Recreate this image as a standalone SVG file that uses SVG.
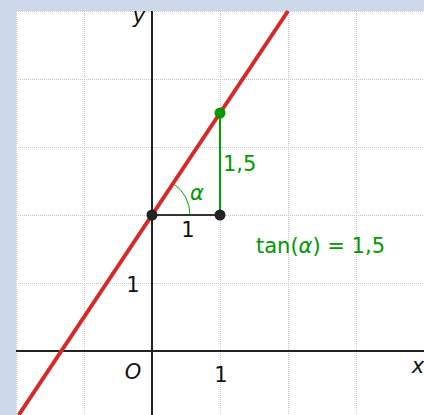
<svg xmlns="http://www.w3.org/2000/svg" width="424" height="415" viewBox="0 0 424 415">
<style>
.grid{stroke:#c4c4c4;stroke-width:1;stroke-dasharray:1 1;fill:none}
.axis{stroke:#222;stroke-width:2;fill:none}
.t{font-family:"DejaVu Sans",sans-serif;font-size:21px;fill:#111}
.it{font-style:italic}
.g{fill:#009900}
</style>
<rect x="0" y="0" width="424" height="415" fill="#cdd9eb"/>
<rect x="16" y="11" width="408" height="404" fill="#fff"/>
<g id="grid">
<path class="grid" d="M16.5 11V415M84.5 11V415M220.5 11V415M288.5 11V415M356.5 11V415M16 11.5H424M16 79.5H424M16 147.5H424M16 215.5H424M16 283.5H424"/>
</g>
<g id="axes">
<line class="axis" x1="152" y1="11" x2="152" y2="415"/>
<line class="axis" x1="16" y1="351" x2="424" y2="351"/>
<text class="t it" x="139" y="23" text-anchor="middle">y</text>
<text class="t it" x="418" y="373" text-anchor="middle">x</text>
<text class="t it" x="133" y="379" text-anchor="middle">O</text>
<text class="t" x="221" y="382" text-anchor="middle">1</text>
<text class="t" x="133" y="292" text-anchor="middle">1</text>
</g>
<g id="line">
<line x1="18.67" y1="415" x2="288" y2="11" stroke="#d42a2a" stroke-width="4"/>
</g>
<g id="connectors">
<line x1="152" y1="215" x2="220" y2="215" stroke="#333" stroke-width="2"/>
<line x1="220" y1="113" x2="220" y2="215" stroke="#00a000" stroke-width="2"/>
<path d="M190 215A38 38 0 0 0 173.1 183.4" fill="none" stroke="#00a000" stroke-width="1"/>
</g>
<g id="points">
<circle cx="152" cy="215" r="5.5" fill="#222"/>
<circle cx="220" cy="215" r="5.5" fill="#222"/>
<circle cx="220" cy="113" r="5.5" fill="#009900"/>
</g>
<g id="labels">
<text class="t" x="188" y="237" text-anchor="middle">1</text>
<text class="t g" x="223" y="171">1,5</text>
<text class="t g it" x="197" y="200" text-anchor="middle">α</text>
<text class="t g" x="256" y="253">tan(<tspan font-style="italic">α</tspan>) = 1,5</text>
</g>
</svg>
